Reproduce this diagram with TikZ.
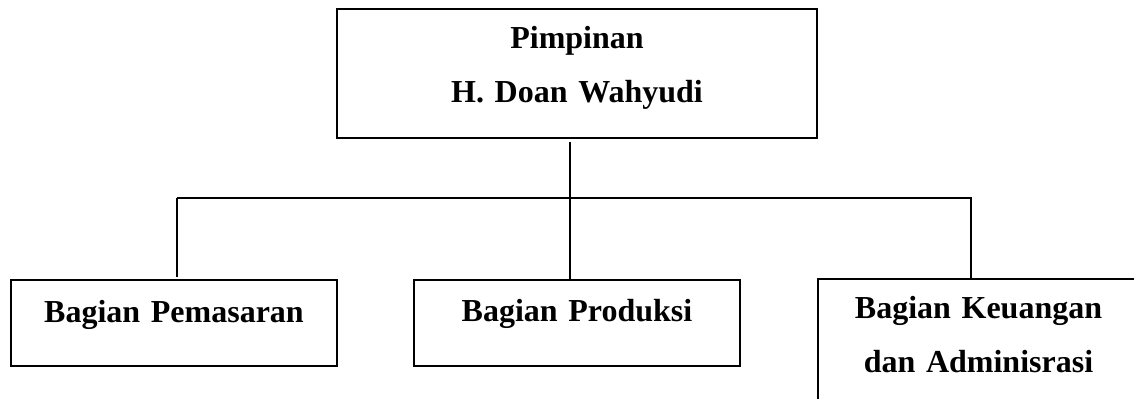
\documentclass[tikz,border=0pt]{standalone}
\usepackage{fontspec}
\setmainfont{Liberation Serif}
\begin{document}
\begin{tikzpicture}[x=0.5pt,y=-0.5pt,
  unit/.style={draw=black, line width=1pt, inner xsep=0pt, inner ysep=0pt,
    anchor=north west, align=center,
    font=\bfseries\fontsize{16pt}{27pt}\selectfont},
  link/.style={draw=black, line width=0.9pt},
  stem/.style={draw=black, line width=0.6pt}]
\useasboundingbox (0,0) rectangle (1134,399);
\clip (0,0) rectangle (1134,399);

% head of the organisation
\node[unit, text width=240pt, text height=20pt, text depth=44.5pt]
  (head) at (336,8) {Pimpinan\\H. Doan Wahyudi};

% departments
\node[unit, text width=163pt, text height=21.5pt, text depth=21.5pt]
  (pemasaran) at (10,279) {Bagian Pemasaran};
\node[unit, text width=163pt, text height=21pt, text depth=22pt]
  (produksi) at (413,279) {Bagian Produksi};
\node[unit, text width=160.5pt, text height=20pt, text depth=60pt]
  (keuangan) at (817,278) {Bagian Keuangan\\dan Adminisrasi};

% connectors
\coordinate (top) at (570,142);
\coordinate (busL) at (177,198);
\coordinate (busR) at (972,198);
\draw[stem] (top) -- (top |- produksi.north);
\draw[link] (busL) -- (busR);
\draw[link] (busL) -- ([yshift=1pt]busL |- pemasaran.north);
\draw[link] ([xshift=-0.5pt]busR) -- ([xshift=-0.5pt]busR |- keuangan.north);
\end{tikzpicture}
\end{document}
